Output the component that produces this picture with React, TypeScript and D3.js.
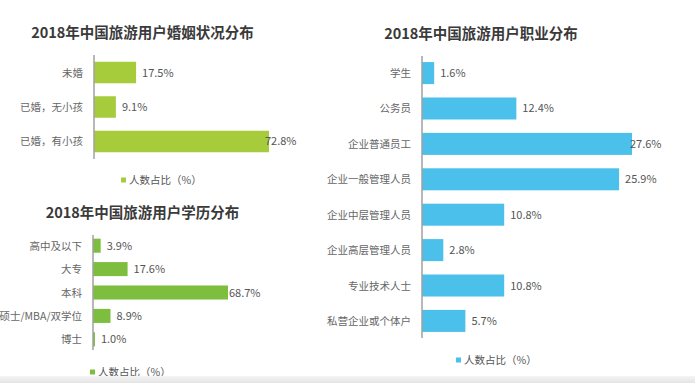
import React from "react";
import * as d3 from "d3";

const maritalCats = ["未婚", "已婚，无小孩", "已婚，有小孩"];
const maritalVals = [17.5, 9.1, 72.8];
const eduCats = ["高中及以下", "大专", "本科", "硕士/MBA/双学位", "博士"];
const eduVals = [3.9, 17.6, 68.7, 8.9, 1.0];
const jobCats = ["学生", "公务员", "企业普通员工", "企业一般管理人员", "企业中层管理人员", "企业高层管理人员", "专业技术人士", "私营企业或个体户"];
const jobVals = [1.6, 12.4, 27.6, 25.9, 10.8, 2.8, 10.8, 5.7];
const titles = ["2018年中国旅游用户婚姻状况分布", "2018年中国旅游用户学历分布", "2018年中国旅游用户职业分布"];
const legendLabel = "人数占比（%）";

const CJK = "'Noto Sans CJK SC', 'Noto Sans', sans-serif";

type PanelProps = {
  cats: string[];
  vals: number[];
  title: string;
  color: string;
  titleX: number;
  titleY: number;
  x0: number;
  x1: number;
  xMax: number;
  y0: number;
  y1: number;
  padIn: number;
  padOut: number;
  labelRight: number;
  valueCap: number;
  legendX: number;
  legendY: number;
};

function Panel(p: PanelProps) {
  const x = d3.scaleLinear().domain([0, p.xMax]).range([p.x0, p.x1]);
  const y = d3.scaleBand<string>().domain(p.cats).range([p.y0, p.y1]).paddingInner(p.padIn).paddingOuter(p.padOut);
  const bw = y.bandwidth();
  return (
    <g>
      <text x={p.titleX} y={p.titleY} textAnchor="middle" fontFamily={CJK} fontWeight="bold" fontSize={14.5} fill="#3a3a3a">
        {p.title}
      </text>
      {p.cats.map((c, i) => {
        const yy = y(c) as number;
        const v = p.vals[i];
        return (
          <g key={c}>
            <rect x={x(0)} y={yy} width={x(v) - x(0)} height={bw} fill={p.color} />
            <text x={p.labelRight} y={yy + bw / 2 + 4} textAnchor="end" fontFamily={CJK} fontSize={10.5} fill="#666">
              {c}
            </text>
            <text x={Math.min(x(v) + 6, p.valueCap)} y={yy + bw / 2 + 4} fontFamily={CJK} fontSize={11} fill="#555">
              {v.toFixed(1) + "%"}
            </text>
          </g>
        );
      })}
      <line x1={p.x0} x2={p.x0} y1={p.y0} y2={p.y1} stroke="#a0a0a0" strokeWidth={1.5} />
      <rect x={p.legendX} y={p.legendY - 2.5} width={5} height={5} fill={p.color} />
      <text x={p.legendX + 8} y={p.legendY + 4} fontFamily={CJK} fontSize={10.5} fill="#555">
        {legendLabel}
      </text>
    </g>
  );
}

export default function App() {
  return (
    <svg width={695} height={383} style={{ position: "absolute", left: 0, top: 0, background: "#fff" }}>
      <defs>
        <linearGradient id="band" x1="0" y1="0" x2="0" y2="1">
          <stop offset="0" stopColor="#f4f4f4" />
          <stop offset="1" stopColor="#e4e4e4" />
        </linearGradient>
      </defs>
      <rect x={0} y={0} width={695} height={383} fill="#fff" />
      <Panel
        cats={maritalCats}
        vals={maritalVals}
        title={titles[0]}
        color="#a6cb3b"
        titleX={142.5}
        titleY={37.5}
        x0={94}
        x1={94 + 240.4}
        xMax={100}
        y0={55}
        y1={159}
        padIn={0.377}
        padOut={0.196}
        labelRight={83}
        valueCap={265}
        legendX={121}
        legendY={180}
      />
      <Panel
        cats={eduCats}
        vals={eduVals}
        title={titles[1]}
        color="#7dbe3f"
        titleX={142.5}
        titleY={218}
        x0={93}
        x1={93 + 196.5}
        xMax={100}
        y0={235}
        y1={350}
        padIn={0.4}
        padOut={0.157}
        labelRight={82}
        valueCap={229}
        legendX={90}
        legendY={372}
      />
      <Panel
        cats={jobCats}
        vals={jobVals}
        title={titles[2]}
        color="#4bc0eb"
        titleX={481}
        titleY={38.5}
        x0={422}
        x1={422 + 228.3}
        xMax={30}
        y0={56}
        y1={338}
        padIn={0.378}
        padOut={0.172}
        labelRight={411}
        valueCap={630}
        legendX={456}
        legendY={360}
      />
      <rect x={0} y={376} width={695} height={7} fill="url(#band)" />
    </svg>
  );
}
